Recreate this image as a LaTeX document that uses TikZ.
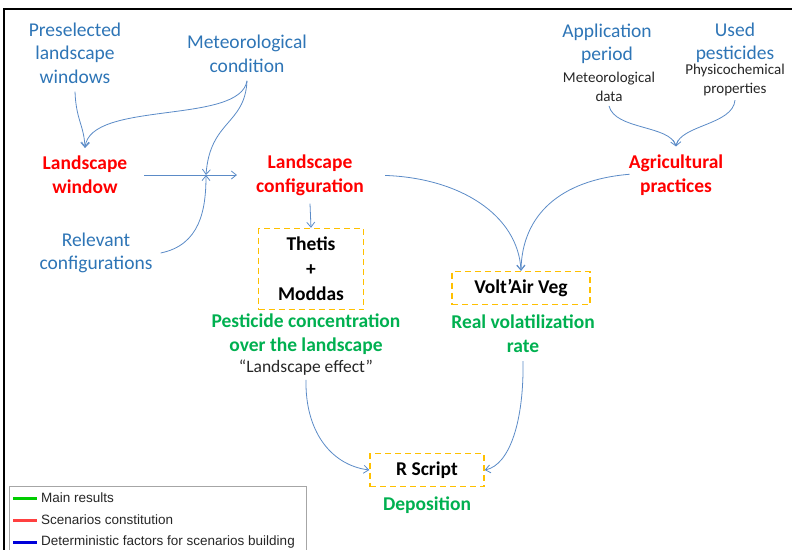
\documentclass[tikz,border=0pt]{standalone}
\usepackage{fontspec}
\setmainfont{Carlito}
\newfontfamily\legendfont{Liberation Sans}
\usetikzlibrary{arrows.meta}
\definecolor{factorblue}{RGB}{46,117,182}
\definecolor{scenred}{RGB}{255,0,0}
\definecolor{resgreen}{RGB}{0,176,80}
\definecolor{modelgold}{RGB}{255,192,0}
\definecolor{flowblue}{RGB}{91,139,199}
\begin{document}
\begin{tikzpicture}[
    x=1pt, y=-1pt,
    every node/.style={align=center, inner sep=8pt},
    factor/.style={text=factorblue, font={\fontsize{19.5}{23.5}\selectfont}},
    scen/.style={text=scenred, font={\bfseries\fontsize{19.5}{24}\selectfont}},
    result/.style={text=resgreen, font={\bfseries\fontsize{19.5}{24}\selectfont}},
    note/.style={text=black!85, inner sep=4pt, font={\fontsize{15}{19}\selectfont}},
    model/.style={draw=modelgold, dash pattern=on 6pt off 4pt, line width=1.4pt, inner sep=0pt, font={\bfseries\fontsize{19.5}{25}\selectfont}},
    flow/.style={draw=flowblue, line width=0.8pt, -{Straight Barb[length=5pt,width=8pt]}},
    legendline/.style={line width=3pt}
]
\useasboundingbox (0,0) rectangle (792,549);
\clip (0,0) rectangle (792,549);
\draw[line width=2pt] (4,560) -- (4,9) -- (800,9);

\node[factor] (pre) at (75,53) {Preselected\\landscape\\windows};
\node[factor] (met) at (247,54) {Meteorological\\condition};
\node[scen] (win) at (85,175) {Landscape\\window};
\node[scen] (conf) at (310,175) {Landscape\\configuration};
\node[factor] (rel) at (96,253) {Relevant\\configurations};
\node[factor] (app) at (607,44) {Application\\period};
\node[factor] (used) at (735,43) {Used\\pesticides};
\node[note] (metd) at (609,87) {Meteorological\\data};
\node[note] (phys) at (735,80) {Physicochemical\\properties};
\node[scen] (agri) at (676,175) {Agricultural\\practices};
\node[model, minimum width=105pt, minimum height=81pt] (thetis) at (311,269) {Thetis\\+\\Moddas};
\node[result] (conc) at (306,334) {Pesticide concentration\\over the landscape};
\node[note, font={\fontsize{17.5}{21}\selectfont}] (effect) at (306,368) {“Landscape effect”};
\node[model, minimum width=138pt, minimum height=33pt] (volt) at (521,288) {Volt’Air Veg};
\node[result] (real) at (523,334) {Real volatilization\\rate};
\node[model, minimum width=114pt, minimum height=33pt] (rscr) at (427,470) {R Script};
\node[result] (depo) at (427,505) {Deposition};
\coordinate (jn) at (206,175);

\draw[flow] (pre.south) .. controls (76,120) and (84,125) .. (win.north);
\draw[flow] (met.south) .. controls (240,125) and (90,100) .. (win.north);
\draw[flow] (met.south) .. controls (245,125) and (210,120) .. (jn);
\draw[flow] (rel.east) .. controls (200,245) and (206,210) .. (jn);
\draw[flow, shorten <=9pt, shorten >=11pt] (win.east) -- (conf.west);
\draw[flow] (conf.south) -- (thetis.north);
\draw[flow, shorten <=13pt] (conf.east) .. controls (460,178) and (518,215) .. (volt.north);
\draw[flow, shorten <=-9pt] (agri.west) .. controls (560,180) and (522,215) .. (volt.north);
\draw[flow] (metd.south) .. controls (615,130) and (670,125) .. (agri.north);
\draw[flow] (phys.south) .. controls (733,125) and (680,125) .. (agri.north);
\draw[flow] (effect.south) .. controls (305,430) and (330,465) .. (rscr.west);
\draw[flow] (real.south) .. controls (524,420) and (510,465) .. (rscr.east);

\draw[gray!70, line width=1pt] (9,560) -- (9,486) -- (306,486) -- (306,560);
\foreach \c/\t [count=\i] in {green!80!black/Main results, red!75/Scenarios constitution, blue!85!black/Deterministic factors for scenarios building}
{
    \draw[\c, legendline] (13,476+22*\i) -- (37,476+22*\i);
    \node[anchor=west, inner sep=0pt, text=black!85, font={\legendfont\fontsize{13.5}{16}\selectfont}] (leg\i) at (41,476+22*\i) {\t};
}
\end{tikzpicture}
\end{document}
